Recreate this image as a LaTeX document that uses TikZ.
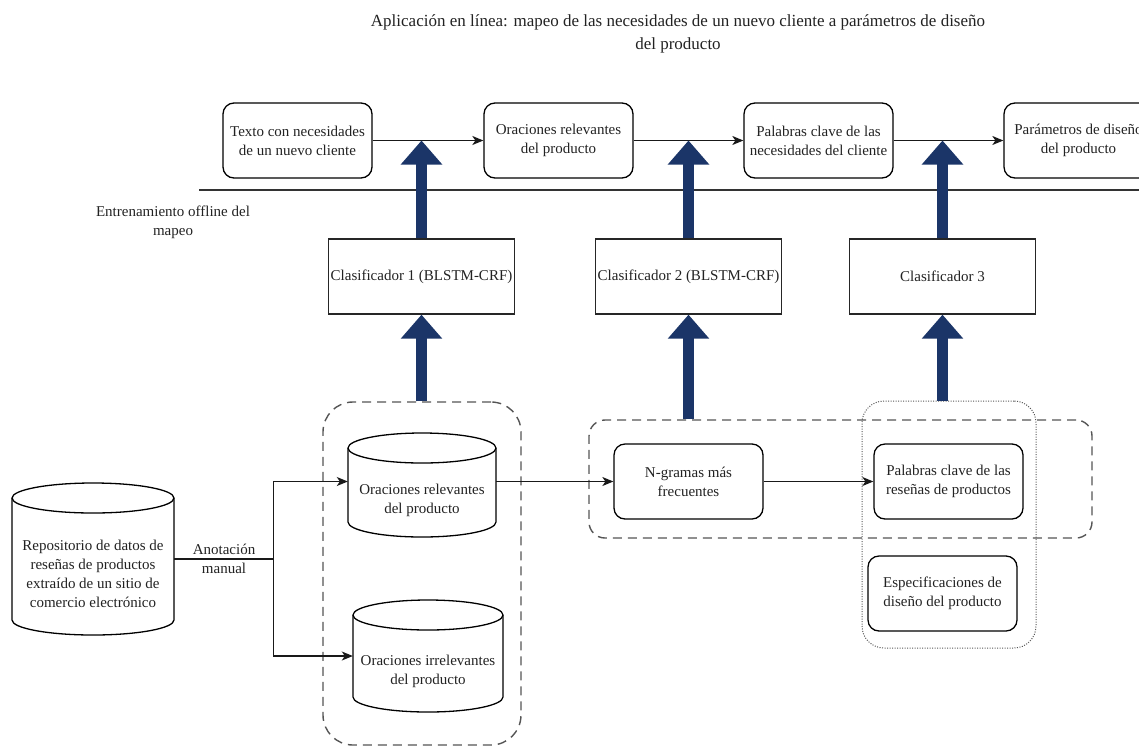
\documentclass[tikz,border=0pt]{standalone}
\usepackage{fontspec}
\setmainfont{Liberation Serif}
\usetikzlibrary{arrows.meta,calc}
\definecolor{navy}{RGB}{27,53,104}
\definecolor{ink}{RGB}{34,34,34}
\definecolor{frame}{RGB}{85,85,85}

% database drum: name, left, top, right, bottom, label
\newcommand\drum[6]{%
  \pgfmathsetmacro\dcx{(#2+#4)/2}%
  \pgfmathsetmacro\dk{0.5523*(#4-#2)/2}%
  \pgfmathsetmacro\dtop{#3+15}%
  \pgfmathsetmacro\dbot{#5-15}%
  \pgfmathsetmacro\dcap{#3+30}%
  \pgfmathsetmacro\dmid{(#3+#5)/2}%
  \pgfmathsetmacro\dtxt{(#3+30+#5)/2}%
  \draw[drumline] (#2,\dtop) -- (#2,\dbot)
    .. controls (#2,\dbot+8.28) and (\dcx-\dk,#5) .. (\dcx,#5)
    .. controls (\dcx+\dk,#5) and (#4,\dbot+8.28) .. (#4,\dbot)
    -- (#4,\dtop)
    .. controls (#4,\dtop-8.28) and (\dcx+\dk,#3) .. (\dcx,#3)
    .. controls (\dcx-\dk,#3) and (#2,\dtop-8.28) .. (#2,\dtop) -- cycle;
  \draw[drumline] (#2,\dtop)
    .. controls (#2,\dtop+8.28) and (\dcx-\dk,\dcap) .. (\dcx,\dcap)
    .. controls (\dcx+\dk,\dcap) and (#4,\dtop+8.28) .. (#4,\dtop);
  \node[inner sep=0, minimum width={(#4-#2)*1pt}, minimum height={(#5-#3)*1pt}] (#1) at (\dcx,\dmid) {};
  \node[txt] (#1-text) at (\dcx,\dtxt) {#6};
}

\begin{document}
\begin{tikzpicture}[x=1pt,y=-1pt,
  txt/.style={text=ink, align=center, inner sep=0, font=\fontsize{15}{19}\selectfont},
  rbox/.style={txt, draw=black, line width=1.3pt, rounded corners=11pt, minimum width=149pt, minimum height=75pt},
  clbox/.style={txt, draw=black!85, line width=1.3pt, minimum width=186pt, minimum height=75pt},
  drumline/.style={draw=black, line width=1.3pt, fill=white},
  conn/.style={draw=black!90, line width=1.3pt},
  tip/.style={-{Stealth[length=11pt,width=9pt,inset=3pt]}},
  bigarrow/.style={draw=navy, line width=11pt, -{Triangle[width=40pt,length=24pt]}},
  dashregion/.style={draw=frame, line width=1.4pt, dash pattern=on 9pt off 6pt, inner sep=0},
  dotregion/.style={draw=frame, line width=1pt, dash pattern=on 1pt off 1.5pt, inner sep=0, rounded corners=22pt},
]
\useasboundingbox (0,0) rectangle (1139,745);

% title and section label
\node[txt, font=\fontsize{17}{23}\selectfont] (title) at (678,34)
  {Aplicación en línea: mapeo de las necesidades de un nuevo cliente a parámetros de diseño\\del producto};
\node[txt] (offline) at (173,222) {Entrenamiento offline del\\mapeo};

% separator between online use and offline training
\coordinate (sepA) at (199,190);
\coordinate (sepB) at (1139,190);
\draw[draw=black!80, line width=1.3pt] (sepA) -- (sepB);

% online pipeline
\node[rbox] (t1) at (297.5,140.5) {Texto con necesidades\\de un nuevo cliente};
\node[rbox] (t2) at (558.5,140.5) {Oraciones relevantes\\del producto};
\node[rbox] (t3) at (818.5,140.5) {Palabras clave de las\\necesidades del cliente};
\node[rbox] (t4) at (1078.5,140.5) {Parámetros de diseño\\del producto};
\draw[conn,tip] (t1) -- (t2);
\draw[conn,tip] (t2) -- (t3);
\draw[conn,tip] (t3) -- (t4);

% classifiers
\node[clbox] (c1) at (421.5,276.5) {Clasificador 1 (BLSTM-CRF)};
\node[clbox] (c2) at (688.5,276.5) {Clasificador 2 (BLSTM-CRF)};
\node[clbox] (c3) at (942.5,276.5) {Clasificador 3};

% groupings of training data
\node[dashregion, rounded corners=30pt, minimum width=198pt, minimum height=343pt] (r1) at (422,573.5) {};
\node[dashregion, rounded corners=16pt, minimum width=503pt, minimum height=118pt] (r2) at (840.5,479) {};
\node[dotregion, minimum width=174pt, minimum height=247pt] (r3) at (949,524.5) {};

% data stores
\drum{repo}{12}{483}{174}{635}{Repositorio de datos de\\reseñas de productos\\extraído de un sitio de\\comercio electrónico}
\drum{cy1}{348}{433}{496}{537}{Oraciones relevantes\\del producto}
\drum{cy2}{353}{600}{503}{712}{Oraciones irrelevantes\\del producto}

% training boxes
\node[rbox] (ng) at (688.5,481.5) {N-gramas más\\frecuentes};
\node[rbox] (pk) at (948.5,481.5) {Palabras clave de las\\reseñas de productos};
\node[rbox] (es) at (942.5,593.5) {Especificaciones de\\diseño del producto};

% manual annotation split
\path (repo.east) -- ++(99,0) coordinate (split);
\draw[conn] (repo.east) -- (split);
\node[txt] (annot) at (224,559) {Anotación\\manual};
\draw[conn,tip] (split) |- (cy1.west |- ng.west);
\draw[conn,tip] (split) |- (cy2.west);
\draw[conn,tip] (cy1.east |- ng.west) -- (ng.west);
\draw[conn,tip] (ng) -- (pk);

% training feeds the classifiers, classifiers drive the online steps
\draw[bigarrow] (c1.south |- r1.north) -- (c1.south);
\draw[bigarrow] (c2.south |- r2.north) -- (c2.south);
\draw[bigarrow] (c3.south |- r3.north) -- (c3.south);
\draw[bigarrow] (c1.north) -- (c1.north |- t1.east);
\draw[bigarrow] (c2.north) -- (c2.north |- t2.east);
\draw[bigarrow] (c3.north) -- (c3.north |- t3.east);
\end{tikzpicture}
\end{document}
